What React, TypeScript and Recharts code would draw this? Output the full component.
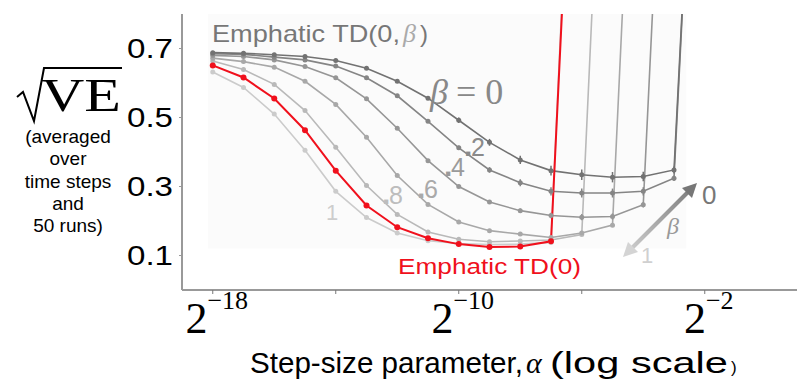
import React from "react";
import {
  LineChart,
  Line,
  XAxis,
  YAxis,
  ErrorBar,
  ReferenceArea,
} from "recharts";

/* ── data: x is log2(step size) ── */
const alphaExp = [-18, -17, -16, -15, -14, -13, -12, -11, -10, -9, -8, -7, -6, -5, -4, -3, -2];

const beta0 = [0.688, 0.686, 0.682, 0.677, 0.665, 0.643, 0.605, 0.556, 0.492, 0.428, 0.377, 0.346, 0.334, 0.327, 0.329, 0.348, 2.1];
const beta02 = [0.685, 0.683, 0.675, 0.667, 0.649, 0.615, 0.563, 0.489, 0.412, 0.348, 0.311, 0.286, 0.281, 0.281, 0.286, 0.324, 2.1];
const beta04 = [0.68, 0.677, 0.667, 0.648, 0.615, 0.554, 0.469, 0.375, 0.3, 0.255, 0.23, 0.216, 0.211, 0.213, 0.247, 2.1, null];
const beta06 = [0.672, 0.662, 0.646, 0.605, 0.538, 0.443, 0.332, 0.248, 0.197, 0.172, 0.162, 0.152, 0.165, 0.188, 2.1, null, null];
const beta08 = [0.664, 0.639, 0.596, 0.52, 0.414, 0.303, 0.219, 0.168, 0.147, 0.14, 0.142, 0.145, 0.161, 2.1, null, null, null];
const beta1 = [0.632, 0.587, 0.51, 0.405, 0.286, 0.21, 0.165, 0.143, 0.135, 0.132, 0.133, 0.138, 2.1, null, null, null, null];
const emphTD0 = [0.651, 0.616, 0.555, 0.463, 0.346, 0.245, 0.182, 0.15, 0.133, 0.125, 0.126, 0.141, 2.0, null, null, null, null];

const err0 = [0, 0, 0, 0, 0, 0, 0, 0, 0.008, 0.01, 0.012, 0.014, 0.015, 0.015, 0.014, 0.01, 0];
const err02 = [0, 0, 0, 0, 0, 0, 0, 0, 0.006, 0.008, 0.01, 0.012, 0.013, 0.013, 0.012, 0.008, 0];
const err04 = [0, 0, 0, 0, 0, 0, 0, 0, 0, 0.004, 0.006, 0.008, 0.009, 0.009, 0.008, 0, 0];

const yTicks = [0.1, 0.3, 0.5, 0.7];
const xTicks = [-18, -14, -10, -6, -2];
const xLabelled = [-18, -10, -2];

const series = [
  { key: "b1", values: beta1, color: "#cbcbcb" },
  { key: "b08", values: beta08, color: "#b9b9b9" },
  { key: "b06", values: beta06, color: "#a8a8a8" },
  { key: "b04", values: beta04, color: "#969696", err: err04 },
  { key: "b02", values: beta02, color: "#858585", err: err02 },
  { key: "b0", values: beta0, color: "#727272", err: err0 },
];

const rows = alphaExp.map((a, i) => {
  const r: Record<string, number | null> = { a, td: emphTD0[i] };
  series.forEach((s) => {
    r[s.key] = s.values[i];
    if (s.err) r[s.key + "e"] = s.err[i];
  });
  return r;
});

const sans = "'Liberation Sans', Arial, Helvetica, sans-serif";
const serif = "'Liberation Serif', 'Times New Roman', serif";

const YTick = (props: any) => {
  const { y, payload } = props;
  return (
    <text
      x={173}
      y={y}
      textAnchor="end"
      dominantBaseline="central"
      fontSize={28}
      fontFamily={sans}
      fill="#000"
      textLength={46}
      lengthAdjust="spacingAndGlyphs"
    >
      {payload.value.toFixed(1)}
    </text>
  );
};

const XTick = (props: any) => {
  const { x, payload } = props;
  if (!xLabelled.includes(payload.value)) return null;
  return (
    <text x={x + 4} y={333} textAnchor="middle" fontFamily={serif} fill="#000">
      <tspan fontSize={44}>2</tspan>
      <tspan fontSize={26} dy={-24}>
        {"\u2212" + Math.abs(payload.value)}
      </tspan>
    </text>
  );
};

// beta curve labels
const betaLabels = [
  { t: ".2", x: 464, y: 156, c: "#8a8a8a" },
  { t: ".4", x: 444, y: 176, c: "#9a9a9a" },
  { t: ".6", x: 417, y: 198, c: "#a9a9a9" },
  { t: ".8", x: 382, y: 204, c: "#bdbdbd" },
];

export default function App() {
  return (
    <div style={{ position: "absolute", left: 0, top: 0, width: 800, height: 388, background: "#fff" }}>
      <LineChart
        width={800}
        height={388}
        data={rows}
        margin={{ top: 14, right: 3, bottom: 0, left: 0 }}
      >
        <ReferenceArea x1={-18.15} x2={-2.6} y1={0.12} y2={0.8} fill="#fbfbfb" fillOpacity={1} stroke="none" ifOverflow="hidden" />
        <XAxis
          dataKey="a"
          type="number"
          domain={[-19, 1]}
          ticks={xTicks}
          height={98}
          allowDataOverflow
          axisLine={{ stroke: "#777", strokeWidth: 1.5 }}
          tickLine={{ stroke: "#777" }}
          tickSize={4}
          tick={<XTick />}
        />
        <YAxis
          type="number"
          domain={[0, 0.8]}
          ticks={yTicks}
          width={182}
          allowDataOverflow
          axisLine={{ stroke: "#999", strokeWidth: 2 }}
          tickLine={{ stroke: "#999" }}
          tickSize={3}
          tick={<YTick />}
        />
        {series.map((s) => (
          <Line
            key={s.key}
            dataKey={s.key}
            stroke={s.color}
            strokeWidth={1.6}
            dot={{ r: 2.5, fill: s.color, stroke: "none" }}
            isAnimationActive={false}
            type="linear"
          >
            {s.err && (
              <ErrorBar dataKey={s.key + "e"} width={0} stroke={s.color} strokeWidth={1.5} direction="y" />
            )}
          </Line>
        ))}
        <Line
          dataKey="td"
          stroke="#f0101c"
          strokeWidth={2}
          dot={{ r: 3, fill: "#f0101c", stroke: "none" }}
          isAnimationActive={false}
          type="linear"
        />
      </LineChart>

      {/* annotations */}
      <svg width={800} height={388} style={{ position: "absolute", left: 0, top: 0, pointerEvents: "none" }}>
        <defs>
          <linearGradient id="betaArrow" gradientUnits="userSpaceOnUse" x1={623} y1={257} x2={697} y2={183}>
            <stop offset="0%" stopColor="#d4d4d4" />
            <stop offset="100%" stopColor="#777" />
          </linearGradient>
        </defs>

        {/* y label: sqrt(VE) */}
        <path d="M17,97 L23,92 L34,121 L44,68 L122,68" fill="none" stroke="#000" strokeWidth={2} />
        <text x={41} y={111} fontSize={46} fontFamily={serif} fill="#000" textLength={80} lengthAdjust="spacingAndGlyphs">
          VE
        </text>
        {["(averaged", "over", "time steps", "and", "50 runs)"].map((t, i) => (
          <text key={t} x={68} y={143 + i * 22.3} fontSize={19} fontFamily={sans} fill="#000" textAnchor="middle">
            {t}
          </text>
        ))}

        {/* x label */}
        <text x={250} y={373} fontSize={29} fontFamily={sans} fill="#000" textLength={273} lengthAdjust="spacingAndGlyphs">
          Step-size parameter,
        </text>
        <text x={526} y={373} fontSize={30} fontFamily={serif} fontStyle="italic" fill="#000">
          α
        </text>
        <text x={550} y={373} fontSize={30} fontFamily={sans} fill="#000" textLength={178} lengthAdjust="spacingAndGlyphs">
          (log scale
        </text>
        <text x={731} y={373} fontSize={17} fontFamily={sans} fill="#000">
          )
        </text>

        {/* series labels */}
        <text x={212} y={42} fontSize={24} fontFamily={sans} fill="#777" textLength={188} lengthAdjust="spacingAndGlyphs">
          Emphatic TD(0,
        </text>
        <text x={403} y={42} fontSize={26} fontFamily={serif} fontStyle="italic" fill="#aaa">
          β
        </text>
        <text x={420} y={42} fontSize={24} fontFamily={sans} fill="#777">
          )
        </text>
        <text x={430} y={104} fontSize={36} fontFamily={serif} fontStyle="italic" fill="#888">
          β
        </text>
        <text x={456} y={104} fontSize={36} fontFamily={serif} fill="#888">
          = 0
        </text>
        {betaLabels.map((b) => (
          <g key={b.t}>
            <text x={b.x} y={b.y} fontSize={30} fontFamily={sans} fontWeight="bold" fill={b.c}>
              {b.t.slice(0, 1)}
            </text>
            <text x={b.x + 7} y={b.y} fontSize={25} fontFamily={sans} fill={b.c}>
              {b.t.slice(1)}
            </text>
          </g>
        ))}
        <text x={326} y={220} fontSize={22} fontFamily={sans} fill="#cdcdcd">1</text>
        <text x={398} y={274} fontSize={22} fontFamily={sans} fill="#f0101c" textLength={183} lengthAdjust="spacingAndGlyphs">
          Emphatic TD(0)
        </text>

        {/* beta arrow */}
        <line x1={630} y1={250} x2={690} y2={190} stroke="url(#betaArrow)" strokeWidth={4} />
        <polygon points="697,183 692,198 682,188" fill="#777" />
        <polygon points="623,257 638,252 628,242" fill="#d4d4d4" />
        <text x={702} y={204} fontSize={26} fontFamily={sans} fill="#777">0</text>
        <text x={667} y={234} fontSize={24} fontFamily={serif} fontStyle="italic" fill="#999">β</text>
        <text x={641} y={263} fontSize={22} fontFamily={sans} fill="#d0d0d0">1</text>
      </svg>
    </div>
  );
}
